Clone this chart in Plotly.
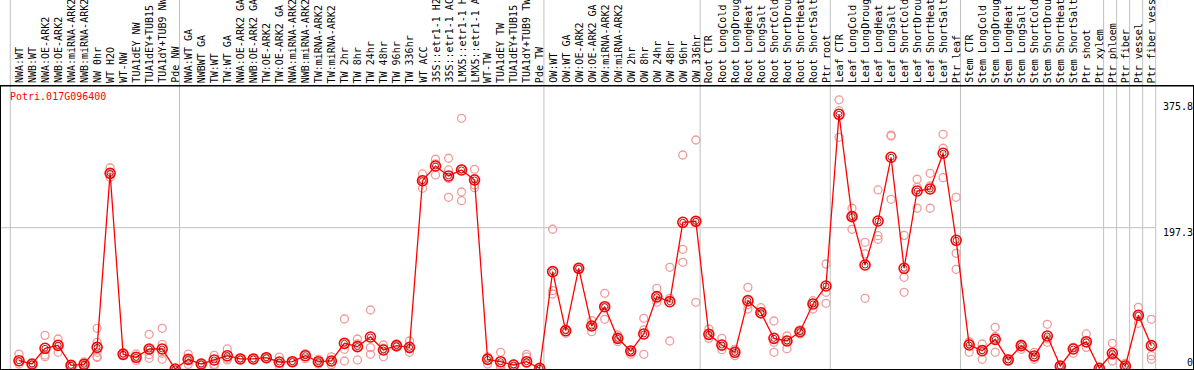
import plotly.graph_objects as go

gene = "Potri.017G096400"

categories = [
    "NWA:WT", "NWB:WT", "NWA:OE-ARK2", "NWB:OE-ARK2", "NWA:miRNA-ARK2", "NWB:miRNA-ARK2",
    "NW 0hr", "WT H2O", "WT-NW", "TUA1dEY NW", "TUA1dEY+TUB15", "TUA1dY+TUB9 NW", "Pde NW",
    "NWA:WT GA", "NWBWT GA", "TW:WT", "TW:WT GA", "NWA:OE-ARK2 GA", "NWB:OE-ARK2 GA",
    "TW:OE-ARK2", "TW:OE-ARK2 GA", "NWA:miRNA-ARK2 GA", "NWB:miRNA-ARK2 GA", "TW:miRNA-ARK2",
    "TW:miRNA-ARK2 GA", "TW 2hr", "TW 8hr", "TW 24hr", "TW 48hr", "TW 96hr", "TW 336hr",
    "WT ACC", "35S::etr1-1 H2O", "35S::etr1-1 ACC", "LMX5::etr1-1 H2O", "LMX5::etr1-1 ACC",
    "WT-TW", "TUA1dEY TW", "TUA1dEY+TUB15 TW", "TUA1dY+TUB9 TW", "Pde TW",
    "OW:WT", "OW:WT GA", "OW:OE-ARK2", "OW:OE-ARK2 GA", "OW:miRNA-ARK2", "OW:miRNA-ARK2 GA",
    "OW 2hr", "OW 8hr", "OW 24hr", "OW 48hr", "OW 96hr", "OW 336hr",
    "Root CTR", "Root LongCold", "Root LongDrought", "Root LongHeat", "Root LongSalt",
    "Root ShortCold", "Root ShortDrought", "Root ShortHeat", "Root ShortSalt", "Ptr root",
    "Leaf CTR", "Leaf LongCold", "Leaf LongDrought", "Leaf LongHeat", "Leaf LongSalt",
    "Leaf ShortCold", "Leaf ShortDrought", "Leaf ShortHeat", "Leaf ShortSalt", "Ptr leaf",
    "Stem CTR", "Stem LongCold", "Stem LongDrought", "Stem LongHeat", "Stem LongSalt",
    "Stem ShortCold", "Stem ShortDrought", "Stem ShortHeat", "Stem ShortSalt", "Ptr shoot",
    "Ptr xylem", "Ptr phloem", "Ptr fiber", "Ptr vessel", "Ptr fiber vessel",
]

means = [
    11.6, 7.0, 28.9, 33.1, 5.1, 6.5, 30.2, 273.2, 20.5, 16.3, 27.9, 27.9, 0.0,
    13.5, 7.0, 12.6, 18.6, 14.0, 14.0, 15.8, 9.8, 10.2, 18.6, 10.2, 11.2, 35.8, 31.2,
    44.7, 26.5, 32.6, 30.2, 262.9, 283.4, 269.5, 277.9, 263.9, 13.5, 10.2, 5.6, 10.2, 1.0,
    135.9, 53.5, 140.6, 60.0, 87.0, 42.8, 25.1, 48.9, 101.0, 94.0, 204.8, 206.2,
    48.4, 33.5, 23.3, 95.4, 78.6, 42.8, 39.1, 52.1, 90.8, 115.9,
    355.6, 212.7, 145.2, 206.6, 295.6, 140.6, 248.5, 251.3, 301.2, 179.7,
    33.5, 25.6, 41.4, 12.6, 32.6, 18.2, 46.1, 4.2, 27.9, 38.1, 1.0,
    21.9, 4.2, 75.0, 32.6,
]

replicates = [
    [20.9, 10.2, 7.0], [7.0, 6.0, 8.0], [47.0, 19.5, 17.2], [41.9, 23.3, 34.0],
    [5.0, 4.6, 5.8], [10.0, 6.0, 3.5], [56.8, 37.3, 23.3, 17.2, 16.0], [281.0, 273.0, 267.7],
    [23.0, 18.5, 20.0], [21.0, 12.0, 17.0], [48.4, 27.5, 14.9, 20.0], [56.8, 34.4, 22.0, 13.5],
    [0.5, 0.0, 0.0], [20.9, 6.5, 13.0], [6.0, 8.0, 7.0], [19.0, 6.5, 4.6], [28.0, 12.6, 15.0],
    [14.0, 13.0, 15.0], [14.0, 13.5, 14.5], [17.0, 14.5, 16.0], [16.7, 4.6, 8.0],
    [10.2, 9.5, 11.0], [21.4, 14.4, 20.0], [13.5, 7.0, 10.0], [17.0, 6.0, 10.5],
    [69.8, 27.5, 11.2], [41.9, 12.6, 34.9], [82.4, 29.8, 20.5], [33.5, 17.0, 29.0],
    [34.9, 30.7, 32.0], [39.1, 23.3, 28.0], [272.3, 252.3, 264.0], [292.8, 270.9, 286.5],
    [294.2, 277.9, 239.7, 266.0], [350.0, 247.1, 235.0, 279.0], [278.8, 256.9, 253.1, 266.0],
    [17.0, 7.0, 16.5], [23.3, 6.0, 1.3], [7.0, 3.3, 6.5], [20.5, 17.0, 7.9], [1.0, 0.5, 1.5],
    [195.1, 109.3, 104.7], [55.8, 49.8, 55.0], [142.0, 139.6, 140.0], [67.5, 52.1, 60.0],
    [105.7, 69.4, 86.0], [47.5, 38.1, 43.0], [25.0, 20.5, 25.5], [70.8, 54.5, 20.5],
    [112.6, 93.1, 98.0], [142.0, 98.7, 39.1], [298.8, 167.1, 149.0], [319.7, 93.1, 206.0],
    [55.8, 42.8, 47.0], [42.8, 31.2, 27.0], [27.5, 18.6, 24.0], [114.0, 83.8, 90.0],
    [85.6, 76.7, 78.0], [67.0, 37.3, 23.3], [46.1, 28.4, 40.0], [54.5, 48.9, 52.0],
    [95.4, 83.8, 92.0], [146.6, 107.1, 91.7],
    [375.8, 360.6, 323.5], [224.4, 195.0, 213.0], [176.9, 160.6, 98.7], [250.0, 186.1, 181.1],
    [325.3, 326.5, 236.9], [186.6, 128.0, 107.1], [264.9, 253.7, 224.4], [273.2, 255.5, 224.4],
    [327.7, 308.2, 267.1], [239.7, 161.5, 139.2],
    [38.1, 23.3, 36.0], [34.9, 13.5, 27.0], [58.2, 45.1, 23.3], [14.4, 11.0, 12.0],
    [33.5, 27.5, 35.0], [23.3, 13.5, 17.0], [62.4, 37.3, 42.0], [4.2, 3.5, 5.0],
    [30.2, 21.9, 30.0], [48.9, 30.2, 36.0], [1.0, 0.5, 1.5],
    [35.8, 11.2, 19.0], [7.9, 2.3, 3.0], [86.1, 63.8, 75.0], [69.4, 18.6, 13.5],
]

group_starts = [0, 13, 41, 53, 63, 73, 84, 85, 86, 87, 88]
y_tick_vals = [375.8, 197.3, 0]
y_tick_text = ["375.8", "197.3", "0"]

W, H = 1194, 370
MONO = "DejaVu Sans Mono"
RED = "#ff0000"
PINK = "#f09a9a"
GRID = "#c0c0c0"

x_idx = list(range(len(categories)))
rep_x, rep_y = [], []
for i, reps in enumerate(replicates):
    for v in reps:
        rep_x.append(i)
        rep_y.append(v)

fig = go.Figure()
fig.add_trace(go.Scatter(
    x=rep_x, y=rep_y, mode="markers",
    marker=dict(symbol="circle-open", size=8, color=PINK, line=dict(width=1.3, color=PINK)),
    hoverinfo="skip", showlegend=False,
))
fig.add_trace(go.Scatter(
    x=x_idx, y=means, mode="lines+markers",
    line=dict(color=RED, width=1.3),
    marker=dict(symbol="circle-open", size=10, color=RED, line=dict(width=1.6, color=RED)),
    showlegend=False,
))
fig.add_trace(go.Scatter(
    x=x_idx, y=means, mode="markers",
    marker=dict(symbol="circle-open", size=6, color="#700000", line=dict(width=0.8, color="#700000")),
    hoverinfo="skip", showlegend=False,
))

off = 0.67
shapes = []
for k in group_starts:
    shapes.append(dict(type="line", xref="x", yref="paper", x0=k - off, x1=k - off,
                       y0=0, y1=1.35, line=dict(color=GRID, width=1), layer="below"))
shapes.append(dict(type="line", xref="x", yref="y", x0=-1.4, x1=group_starts[-1] - off,
                   y0=y_tick_vals[1], y1=y_tick_vals[1], line=dict(color=GRID, width=1), layer="below"))
shapes.append(dict(type="line", xref="paper", yref="paper", x0=-0.01, x1=1.01, y0=1, y1=1,
                   line=dict(color="black", width=1)))

annotations = []
for i, c in enumerate(categories):
    annotations.append(dict(x=i, xref="x", y=1, yref="paper", text=c, textangle=-90,
                            showarrow=False, xanchor="center", yanchor="bottom", yshift=1,
                            font=dict(family=MONO, size=10, color="black")))
annotations.append(dict(x=0, xref="paper", y=1, yref="paper", text=gene, showarrow=False,
                        xanchor="left", yanchor="top", xshift=7, yshift=-3,
                        font=dict(family=MONO, size=10, color=RED)))
shifts = [-7, -5, 7]
for v, t, s in zip(y_tick_vals, y_tick_text, shifts):
    annotations.append(dict(x=1, xref="paper", y=v, yref="y", text=t, showarrow=False,
                            xanchor="right", yanchor="middle", yshift=s, xshift=2,
                            font=dict(family=MONO, size=10, color="black")))

fig.update_layout(
    width=W, height=H,
    margin=dict(l=1, r=1, t=86, b=1),
    paper_bgcolor="white", plot_bgcolor="white",
    xaxis=dict(range=[-1.383, 90.197], showgrid=False, zeroline=False, showticklabels=False,
               ticks="", showline=True, linecolor="black", linewidth=1, mirror=True),
    yaxis=dict(range=[0, 395.1], showgrid=False, zeroline=False, showticklabels=False,
               ticks="", showline=True, linecolor="black", linewidth=1, mirror=True),
    shapes=shapes, annotations=annotations, showlegend=False,
)

fig.write_html("out.html", config={"displayModeBar": False},
               post_script="document.body.style.margin='0';document.body.style.overflow='hidden';")
